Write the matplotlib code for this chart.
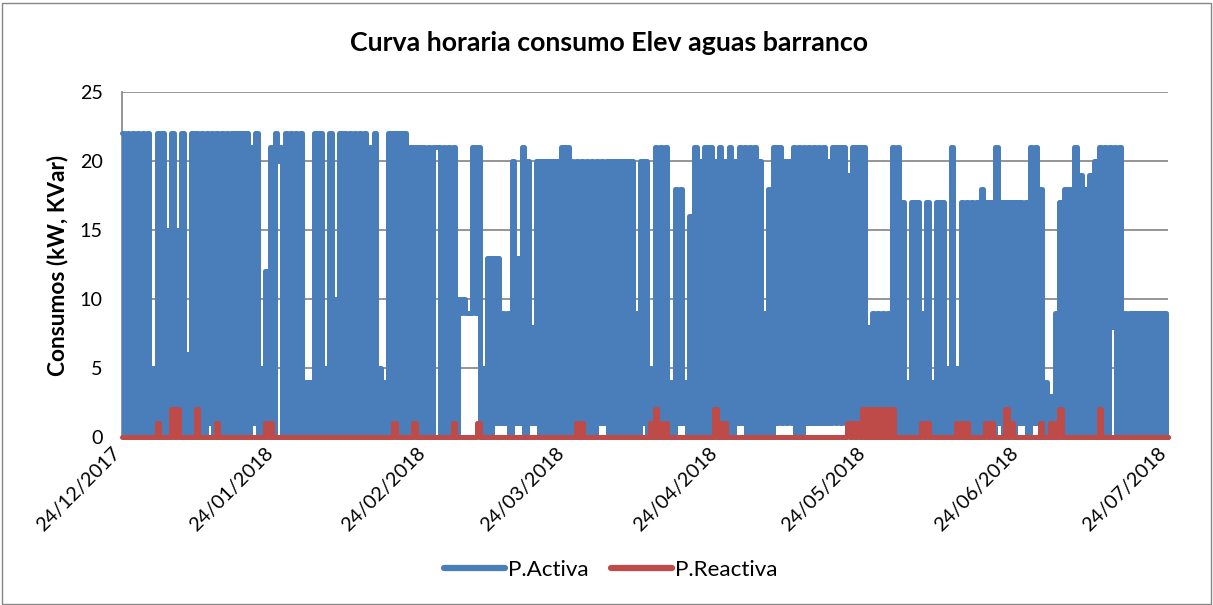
import numpy as np
import pandas as pd
import matplotlib
matplotlib.use('Agg')
import matplotlib.pyplot as plt
from matplotlib.patches import Rectangle
from matplotlib.lines import Line2D
from matplotlib.transforms import ScaledTranslation

# ---------------- data ----------------
start_date = '2017-12-24'
end_date = '2018-07-24'
tick_labels = ['24/12/2017', '24/01/2018', '24/02/2018', '24/03/2018',
               '24/04/2018', '24/05/2018', '24/06/2018', '24/07/2018']
series_names = ['P.Activa', 'P.Reactiva']
title = 'Curva horaria consumo Elev aguas barranco'
ylabel = 'Consumos (kW, KVar)'
y_ticks = [0, 5, 10, 15, 20, 25]

# daily maximum of P.Activa (kW)
activa_peak = [
    22, 22, 22, 22, 22, 22, 5, 22, 22, 15,
    22, 15, 22, 6, 22, 22, 22, 22, 22, 22,
    22, 22, 22, 22, 22, 22, 21, 22, 5, 12,
    21, 22, 21, 22, 22, 22, 22, 4, 4, 22,
    22, 5, 22, 10, 22, 22, 22, 22, 22, 22,
    21, 22, 5, 4, 22, 22, 22, 22, 21, 21,
    21, 21, 21, 21, 21, 21, 21, 21, 10, 10,
    9, 21, 21, 5, 13, 13, 13, 9, 9, 20,
    13, 21, 20, 8, 20, 20, 20, 20, 20, 21,
    21, 20, 20, 20, 20, 20, 20, 20, 20, 20,
    20, 20, 20, 20, 9, 20, 20, 5, 21, 21,
    21, 4, 18, 18, 4, 16, 21, 20, 21, 21,
    20, 21, 20, 21, 20, 21, 21, 21, 21, 20,
    9, 18, 21, 21, 20, 20, 21, 21, 21, 21,
    21, 21, 21, 20, 21, 21, 21, 19, 21, 21,
    21, 8, 9, 9, 9, 9, 21, 21, 17, 4,
    17, 17, 9, 17, 4, 17, 17, 5, 21, 5,
    17, 17, 17, 17, 18, 17, 17, 21, 17, 17,
    17, 17, 17, 17, 21, 21, 18, 4, 3, 9,
    17, 18, 18, 21, 19, 18, 19, 20, 21, 21,
    21, 21, 21, 9, 9, 9, 9, 9, 9, 9,
    9, 9,
]

# daily minimum of P.Activa (kW)
activa_low = [
    0, 0, 0, 0, 0, 0, 0, 0, 0, 0,
    0, 0, 0, 0, 0, 0, 0, 1, 0, 0,
    0, 0, 0, 0, 0, 0, 1, 0, 0, 0,
    0, 20, 0, 0, 0, 0, 0, 0, 0, 0,
    0, 0, 0, 0, 0, 0, 0, 0, 0, 0,
    0, 0, 0, 0, 0, 0, 0, 0, 0, 0,
    0, 0, 0, 21, 0, 0, 0, 0, 9, 9,
    9, 9, 0, 0, 0, 1, 1, 1, 0, 1,
    1, 0, 1, 1, 0, 0, 0, 0, 0, 0,
    0, 0, 0, 0, 0, 0, 1, 1, 0, 0,
    0, 0, 0, 0, 0, 1, 0, 0, 0, 0,
    0, 0, 1, 1, 0, 0, 0, 0, 0, 0,
    0, 0, 0, 0, 1, 1, 0, 0, 0, 0,
    0, 0, 1, 1, 1, 1, 0, 0, 1, 1,
    1, 1, 1, 1, 1, 1, 1, 0, 0, 0,
    0, 0, 0, 0, 0, 0, 0, 0, 0, 0,
    0, 0, 0, 0, 0, 0, 0, 0, 0, 0,
    0, 0, 0, 0, 0, 0, 0, 1, 0, 0,
    0, 1, 1, 0, 1, 1, 0, 0, 0, 0,
    0, 0, 0, 0, 0, 0, 0, 0, 0, 0,
    8, 0, 0, 0, 0, 0, 0, 0, 0, 0,
    0, 0,
]

# daily maximum of P.Reactiva (kVAr); daily minimum is 0 throughout
reactiva_peak = [
    0, 0, 0, 0, 0, 0, 0, 1, 0, 0,
    2, 2, 0, 0, 0, 2, 0, 0, 0, 1,
    0, 0, 0, 0, 0, 0, 0, 0, 0, 1,
    1, 0, 0, 0, 0, 0, 0, 0, 0, 0,
    0, 0, 0, 0, 0, 0, 0, 0, 0, 0,
    0, 0, 0, 0, 0, 1, 0, 0, 0, 1,
    0, 0, 0, 0, 0, 0, 0, 1, 0, 0,
    0, 0, 1, 0, 0, 0, 0, 0, 0, 0,
    0, 0, 0, 0, 0, 0, 0, 0, 0, 0,
    0, 0, 1, 1, 0, 0, 0, 0, 0, 0,
    0, 0, 0, 0, 0, 0, 0, 1, 2, 1,
    1, 0, 0, 0, 0, 0, 0, 0, 0, 0,
    2, 1, 1, 0, 0, 0, 0, 0, 0, 0,
    0, 0, 0, 0, 0, 0, 0, 0, 0, 0,
    0, 0, 0, 0, 0, 0, 0, 1, 1, 1,
    2, 2, 2, 2, 2, 2, 2, 0, 0, 0,
    0, 0, 1, 1, 0, 0, 0, 0, 0, 1,
    1, 1, 0, 0, 0, 1, 1, 0, 0, 2,
    1, 0, 0, 0, 0, 0, 1, 0, 1, 1,
    2, 0, 0, 0, 0, 0, 0, 0, 2, 0,
    0, 0, 0, 0, 0, 0, 0, 0, 0, 0,
    0, 0,
]
reactiva_low = [0] * len(reactiva_peak)

# ---------------- styling ----------------
BLUE = '#4a7ebb'
RED = '#be4b48'
GRID = '#8c8c8c'
W, H, DPI = 1213, 605, 100

plt.rcParams['font.family'] = ['Lato', 'DejaVu Sans']

fig = plt.figure(figsize=(W / DPI, H / DPI), dpi=DPI)
fig.patch.set_facecolor('white')


def fit_size(s, target_px, weight='normal', fs0=14.0):
    t = fig.text(0, 0, s, fontsize=fs0, fontweight=weight)
    fig.canvas.draw()
    w = t.get_window_extent().width
    t.remove()
    return fs0 * target_px / w


fs_title = fit_size(title, 524, 'bold')
fs_ylab = fit_size(ylabel, 222, 'bold')
fs_date = fit_size(tick_labels[0], 110)
fs_ytick = fit_size('25', 23)
fs_leg = fit_size(series_names[1], 103)

fig.add_artist(Rectangle((1.5 / W, 1.5 / H), (W - 4) / W, (H - 4) / H,
                         transform=fig.transFigure, fill=False,
                         edgecolor='#868686', lw=1.0))

ax = fig.add_axes([122 / W, 1 - 437 / H, 1046 / W, 345 / H])

n = len(activa_peak)
day_start = pd.date_range(start_date, periods=n, freq='D')
half = day_start + pd.Timedelta(hours=12)
end = pd.Timestamp(end_date)


def daily_path(peaks, lows):
    xs = np.empty(2 * n, dtype='datetime64[ns]')
    xs[0::2] = day_start.values
    xs[1::2] = half.values
    ys = np.empty(2 * n)
    ys[0::2] = peaks
    ys[1::2] = lows
    xs = np.append(xs, np.datetime64(end))
    ys = np.append(ys, lows[-1])
    return xs, ys


xa, ya = daily_path(activa_peak, activa_low)
xr, yr = daily_path(reactiva_peak, reactiva_low)

lw = 3.6
ax.plot(xa, ya, drawstyle='steps-post', color=BLUE, lw=lw,
        solid_joinstyle='round', solid_capstyle='round', clip_on=False, zorder=3)
ax.plot(xr, yr, drawstyle='steps-post', color=RED, lw=lw,
        solid_joinstyle='round', solid_capstyle='round', clip_on=False, zorder=4)

ax.set_ylim(0, 25)
ax.set_xlim(pd.Timestamp(start_date), end)
ax.set_yticks(y_ticks)
ax.set_yticklabels([str(v) for v in y_ticks], fontsize=fs_ytick)
tick_pos = pd.to_datetime(tick_labels, dayfirst=True)
ax.set_xticks(tick_pos)
ax.set_xticklabels(tick_labels, rotation=45, ha='right', rotation_mode='anchor',
                   fontsize=fs_date)
ax.tick_params(axis='both', length=0)
ax.tick_params(axis='y', pad=14)
ax.tick_params(axis='x', pad=5)
shift = ScaledTranslation(-11 / DPI, 0, fig.dpi_scale_trans)
for lbl in ax.get_xticklabels():
    lbl.set_transform(lbl.get_transform() + shift)
ax.yaxis.grid(True, color=GRID, lw=1.3, zorder=0)
ax.set_axisbelow(True)
for s in ['top', 'right', 'bottom']:
    ax.spines[s].set_visible(False)
ax.spines['left'].set_color(GRID)
ax.spines['left'].set_linewidth(1.3)

fig.text(57 / W, 1 - 265 / H, ylabel, rotation=90, ha='center', va='center',
         fontsize=fs_ylab, fontweight='bold')

fig.text(609 / W, 1 - 43 / H, title, ha='center', va='center',
         fontsize=fs_title, fontweight='bold')

handles = [Line2D([], [], color=BLUE, lw=4.5, solid_capstyle='round'),
           Line2D([], [], color=RED, lw=4.5, solid_capstyle='round')]
fig.legend(handles, series_names, loc='center', bbox_to_anchor=(611 / W, 1 - 570 / H),
           ncol=2, frameon=False, fontsize=fs_leg, handlelength=2.7,
           handletextpad=0.15, columnspacing=1.0)

fig.savefig('out.png', dpi=DPI, facecolor='white')
